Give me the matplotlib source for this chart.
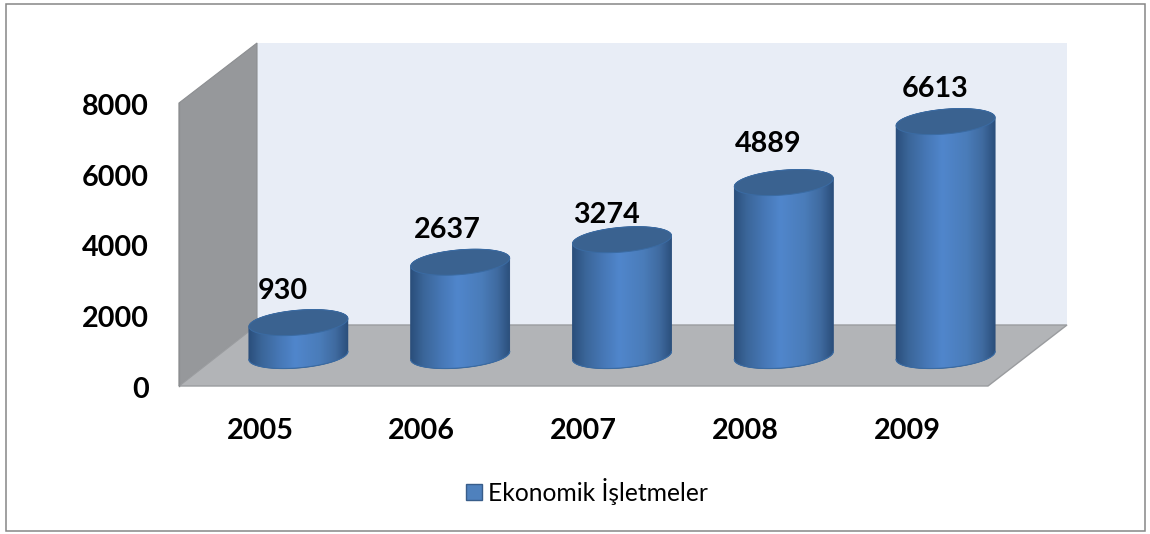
import numpy as np
import matplotlib
matplotlib.use("Agg")
import matplotlib.pyplot as plt
from matplotlib.colors import LinearSegmentedColormap
from matplotlib.patches import Polygon, Rectangle
from matplotlib.transforms import Affine2D, ScaledTranslation

years = ["2005", "2006", "2007", "2008", "2009"]
values = [930, 2637, 3274, 4889, 6613]
y_ticks = [0, 2000, 4000, 6000, 8000]
legend_label = "Ekonomik İşletmeler"
label_dx = [-15.5, -13, -16, -16, -10]
label_dy = [31.5, 32, 25, 39, 33]

W, H = 1150, 534
plt.rcParams["font.family"] = ["Lato", "DejaVu Sans"]
fig = plt.figure(figsize=(W / 100, H / 100), dpi=100, facecolor="white")

# Pixel-space background: frame and the three walls
bg = fig.add_axes([0, 0, 1, 1])
bg.set_xlim(0, W)
bg.set_ylim(H, 0)
bg.axis("off")
bg.add_patch(Rectangle((5.5, 4), 1139.5, 527, fc="white", ec="#868686", lw=1.1))
bg.add_patch(Polygon([(257, 43), (1067, 43), (1067, 325), (257, 325)], fc="#E8EDF6", ec="none"))
bg.add_patch(Polygon([(179, 103), (257, 43), (257, 325), (179, 386)], fc="#96989B", ec="#8C8E91", lw=0.8))
bg.add_patch(Polygon([(179, 386), (257, 325), (1067, 325), (988, 386)], fc="#B2B4B7", ec="#9A9C9F", lw=1.0))

# Value axis on the front edge of the chart
ax = fig.add_axes([179 / W, 1 - 386 / H, (988 - 179) / W, (386 - 103) / H])
ax.patch.set_alpha(0)
ax.set_xlim(-0.5, 4.5)
ax.set_ylim(0, 8000)
ax.set_autoscale_on(False)
ax.set_xticks(range(len(years)), years)
ax.set_yticks(y_ticks)
ax.tick_params(length=0, labelsize=20.7)
ax.tick_params(axis="x", pad=23)
ax.tick_params(axis="y", pad=21.8)
shift = ScaledTranslation(0, -1.5 / 72 * 0.72, fig.dpi_scale_trans)
for lab in ax.get_xticklabels() + ax.get_yticklabels():
    lab.set_fontweight("bold")
    lab.set_color("black")
for lab in ax.get_yticklabels():
    lab.set_transform(lab.get_transform() + shift)
for s_name in ("top", "right", "bottom"):
    ax.spines[s_name].set_visible(False)
ax.spines["left"].set_color("#8C8E91")
ax.spines["left"].set_linewidth(1.0)

# Cylinders, shifted by the chart's depth in pixels
depth = ax.transData + Affine2D().translate(38.5, 30.5)
cmap = LinearSegmentedColormap.from_list(
    "cyl",
    [(0, "#2B4F7C"), (0.12, "#3A6598"), (0.3, "#4677B5"), (0.47, "#5086CC"),
     (0.72, "#4A7CB9"), (0.88, "#3F6A9F"), (1, "#2B4F7C")],
)
px_x = (988 - 179) / 5
px_y = (386 - 103) / 8000
a = 49.5 / px_x
b = 12.4 / px_y
s = 4.0 / px_y
margin = 0.2
gradient = np.clip(np.linspace(-margin / 2, 1 + margin / 2, 300), 0, 1).reshape(1, -1)


def ell(cx, cy, t):
    return cx + a * np.cos(t), cy + b * np.sin(t) + s * np.cos(t)


for i, v in enumerate(values):
    z = 3 + i
    lower = np.linspace(np.pi, 2 * np.pi, 100)
    bx, by = ell(i, 0, lower)
    upper = np.linspace(0, np.pi, 100)
    tx, ty = ell(i, v, upper)
    outline = np.column_stack([np.r_[bx, tx], np.r_[by, ty]])
    ax.add_patch(Polygon(outline, closed=True, transform=depth, fc="#2B4F7C", ec="#2B4F7C",
                         lw=0.5, clip_on=False, zorder=z - 0.1))
    clip = Polygon(outline, closed=True, transform=depth, fc="none", ec="none")
    ax.add_patch(clip)
    im = ax.imshow(gradient, cmap=cmap, vmin=0, vmax=1, aspect="auto",
                   extent=(i - a * (1 + margin), i + a * (1 + margin),
                           -3 * b - 2 * s, v + 3 * b + 2 * s),
                   interpolation="bilinear", zorder=z)
    im.set_transform(depth)
    im.set_clip_box(fig.bbox)
    im.set_clip_path(clip)
    ax.plot(bx, by, color="#3A6BA3", lw=0.8, transform=depth, clip_on=False, zorder=z + 0.1)
    tt = np.linspace(0, 2 * np.pi, 200)
    ex, ey = ell(i, v, tt)
    ax.fill(ex, ey, fc="#3A6290", ec="#3A6BA3", lw=0.7, transform=depth, clip_on=False, zorder=z + 0.2)
    ax.annotate(str(v), xy=(i, v), xycoords=depth, xytext=(label_dx[i] * 0.72, label_dy[i] * 0.72),
                textcoords="offset points", ha="center", va="center", fontsize=20.7,
                fontweight="bold", color="black", zorder=20)

ax.set_xlim(-0.5, 4.5)
ax.set_ylim(0, 8000)

# Legend
bg.add_patch(Rectangle((466, 483.5), 16, 16, fc="#4F81BD", ec="#385D8A", lw=1.0))
bg.text(488, 491.5, legend_label, fontsize=17.7, va="center", ha="left", color="black")

fig.savefig("out.png", dpi=100)
